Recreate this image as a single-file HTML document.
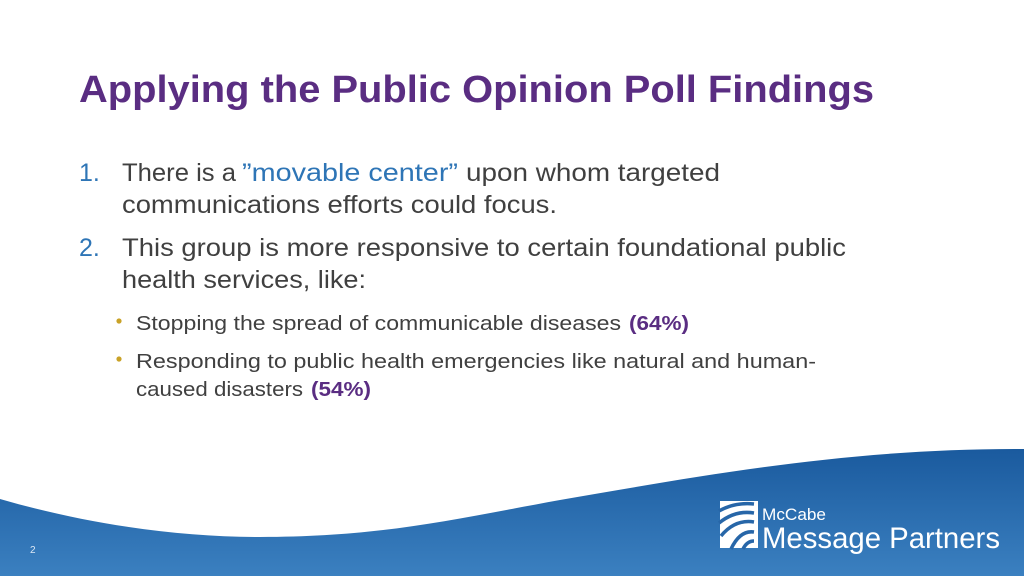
<!DOCTYPE html>
<html><head><meta charset="utf-8"><style>
html,body{margin:0;padding:0;background:#fff;}
svg{display:block;font-family:"Liberation Sans",sans-serif;}
</style></head><body>
<svg width="1024" height="576" viewBox="0 0 1024 576">
<defs>
<linearGradient id="wg" x1="0" y1="0" x2="0" y2="1">
<stop offset="0" stop-color="#1a5a9e"/><stop offset="1" stop-color="#3b80c0"/>
</linearGradient>
</defs>
<path d="M0,499 C90,525 180,537 260,537 C380,537 450,520 560,500 C700,476 850,448 1024,449 L1024,576 L0,576 Z" fill="url(#wg)"/>
<text x="79" y="102" font-size="38" font-weight="bold" fill="#5a2d82" textLength="795" lengthAdjust="spacingAndGlyphs">Applying the Public Opinion Poll Findings</text>
<g font-size="25" fill="#404040">
<text x="79" y="181" fill="#2e75b6">1.</text>
<text x="122" y="181" textLength="114" lengthAdjust="spacingAndGlyphs">There is a</text>
<text x="242" y="181" fill="#2e75b6" textLength="216" lengthAdjust="spacingAndGlyphs">”movable center”</text>
<text x="466" y="181" textLength="254" lengthAdjust="spacingAndGlyphs">upon whom targeted</text>
<text x="122" y="213" textLength="435" lengthAdjust="spacingAndGlyphs">communications efforts could focus.</text>
<text x="79" y="256" fill="#2e75b6">2.</text>
<text x="122" y="256" textLength="724" lengthAdjust="spacingAndGlyphs">This group is more responsive to certain foundational public</text>
<text x="122" y="288" textLength="244" lengthAdjust="spacingAndGlyphs">health services, like:</text>
</g>
<g font-size="20" fill="#404040">
<circle cx="119" cy="321" r="2.6" fill="#c9a227"/>
<text x="136" y="330" textLength="485" lengthAdjust="spacingAndGlyphs">Stopping the spread of communicable diseases</text>
<text x="629" y="330" font-weight="bold" fill="#5a2d82" textLength="60" lengthAdjust="spacingAndGlyphs">(64%)</text>
<circle cx="119" cy="359" r="2.6" fill="#c9a227"/>
<text x="136" y="368" textLength="680" lengthAdjust="spacingAndGlyphs">Responding to public health emergencies like natural and human-</text>
<text x="136" y="396" textLength="167" lengthAdjust="spacingAndGlyphs">caused disasters</text>
<text x="311" y="396" font-weight="bold" fill="#5a2d82" textLength="60" lengthAdjust="spacingAndGlyphs">(54%)</text>
</g>
<text x="30" y="553" font-size="10" fill="#dce8f5">2</text>
<g>
<rect x="720" y="501" width="38" height="47" fill="#fff"/>
<g fill="none" stroke="#2766a8" stroke-width="3.5">
<path d="M719,511 Q735,502 754,504"/>
<path d="M719,523 Q735,510 754,513"/>
<path d="M721,536 Q735,519 754,522"/>
<path d="M731,549 Q740,530 754,532"/>
<path d="M743,549 Q747,541 754,541"/>
</g>
</g>
<text x="762" y="520" font-size="17" fill="#fff" textLength="64" lengthAdjust="spacingAndGlyphs">McCabe</text>
<text x="762" y="548" font-size="30" fill="#fff" textLength="238" lengthAdjust="spacingAndGlyphs">Message Partners</text>
</svg>
</body></html>
